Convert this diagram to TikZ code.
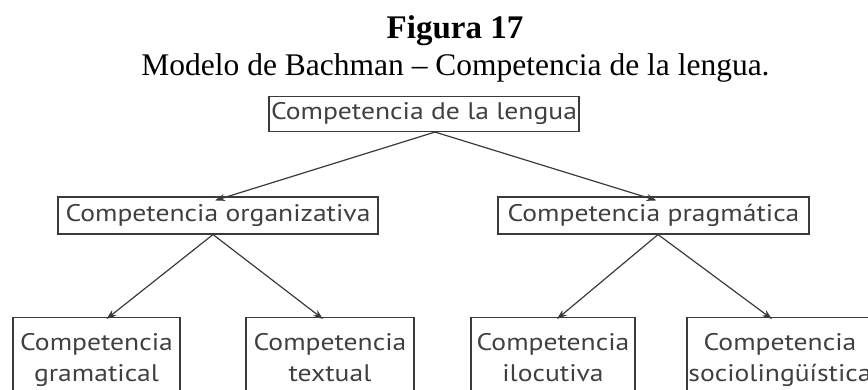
\documentclass[tikz,border=0pt]{standalone}
\usepackage{fontspec}
\usepackage{graphicx}
\setmainfont{Liberation Serif}
\newfontfamily\boxfont{PT Sans}
\usetikzlibrary{arrows.meta}
\definecolor{ink}{HTML}{3A3A3A}
\definecolor{txt}{HTML}{404040}
\newcommand\hstretch[1]{\scalebox{1.15}[1]{#1}}
\begin{document}
\begin{tikzpicture}[x=1pt,y=-1pt,
  cbox/.style={draw=ink,line width=1.1pt,text=txt,inner sep=0pt,font=\boxfont\fontsize{24}{31}\selectfont},
  twoline/.style={cbox,anchor=north,minimum height=80pt,align=center,text depth=0pt},
  conn/.style={draw=ink,line width=1.2pt,-{Stealth[length=10pt,width=7pt]}}]
\useasboundingbox (0,0) rectangle (868,390);
\clip (0,0) rectangle (868,390);
\node[anchor=base,inner sep=0pt] (title) at (455,39) {\fontsize{33}{36}\selectfont\bfseries Figura 17};
\node[anchor=base,inner sep=0pt] (sub) at (455.5,76) {\fontsize{31.5}{34}\selectfont Modelo de Bachman -- Competencia de la lengua.};
\node[cbox,minimum width=310pt,minimum height=35pt] (top) at (424,114) {\hstretch{Competencia de la lengua}};
\node[cbox,minimum width=320pt,minimum height=37pt] (org) at (218,215.5) {\hstretch{Competencia organizativa}};
\node[cbox,minimum width=311pt,minimum height=37pt] (prag) at (653.5,215.5) {\hstretch{Competencia pragmática}};
\node[twoline,minimum width=167pt] (gram) at (96.5,317) {\hstretch{Competencia}\\\hstretch{gramatical}};
\node[twoline,minimum width=168pt] (text) at (330,317) {\hstretch{Competencia}\\\hstretch{textual}};
\node[twoline,minimum width=164pt] (iloc) at (553,317) {\hstretch{Competencia}\\\hstretch{ilocutiva}};
\node[twoline,minimum width=186pt] (socio) at (780,317) {\hstretch{Competencia}\\\hstretch{sociolingüística}};
\coordinate (topo) at ([xshift=11pt]top.south);
\draw[conn] (topo) -- ([xshift=-3pt,yshift=-4pt]org.north);
\draw[conn] (topo) -- ([xshift=3pt,yshift=-4pt]prag.north);
\coordinate (orgo) at ([xshift=-5pt]org.south);
\coordinate (prago) at ([xshift=4.5pt]prag.south);
\draw[conn] (orgo) -- ([xshift=10pt,yshift=-2pt]gram.north);
\draw[conn] (orgo) -- ([xshift=-7pt,yshift=-2pt]text.north);
\draw[conn] (prago) -- ([xshift=4pt,yshift=-2pt]iloc.north);
\draw[conn] (prago) -- ([xshift=-8pt,yshift=-2pt]socio.north);
\end{tikzpicture}
\end{document}
